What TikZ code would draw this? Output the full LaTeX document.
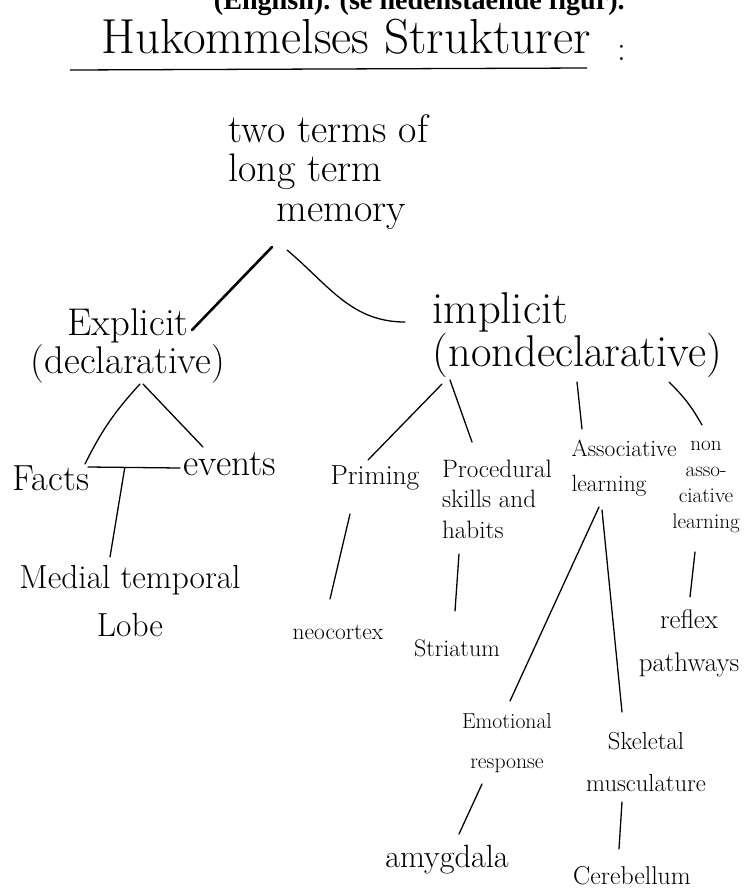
\documentclass[tikz,border=0pt]{standalone}
\usepackage{fontspec}
\newfontfamily\printfont{Liberation Serif}
\usepackage{tikz}
\usetikzlibrary{positioning,calc}
\tikzset{
  hand/.style={align=center, inner sep=2pt},
  stroke/.style={line width=1.1pt, line cap=round},
}

\begin{document}
\begin{tikzpicture}[x=0.03cm,y=-0.03cm]
      \useasboundingbox (0,0) rectangle (744,891);
      \begin{scope}
        \clip (0,0) rectangle (744,891);
        \node[anchor=base east,inner sep=0pt,font=\printfont\bfseries\fontsize{24}{26}\selectfont] (top) at (625,9) {(English). (se nedenstående figur).};
      \end{scope}
      \node[hand,inner sep=0pt,anchor=base,font=\fontsize{42}{44}\selectfont] (title) at (346,53) {Hukommelses Strukturer};
      \node[hand,anchor=base,font=\fontsize{30}{30}\selectfont] (colon) at (622,60) {:};
      \draw[stroke] ($(title.base west)+(-31,17)$) -- ($(title.base east)+(-4,15)$);

      \node[hand,align=left,anchor=west,font=\fontsize{34}{34}\selectfont] (mem) at (226,172) {two terms of\\long term\\\hspace*{1.2em}memory};
      \node[hand,font=\fontsize{33}{32}\selectfont] (expl) at (128,346) {Explicit\\(declarative)};
      \node[hand,align=left,anchor=west,font=\fontsize{38}{34}\selectfont] (impl) at (430,335) {implicit\\(nondeclarative)};

      \node[hand,font=\fontsize{31}{33}\selectfont] (facts) at (51,478) {Facts};
      \node[hand,font=\fontsize{32}{34}\selectfont] (events) at (230,464) {events};
      \node[hand,font=\fontsize{28.5}{41}\selectfont] (mtl) at (130,601) {Medial temporal\\Lobe};

      \node[hand,font=\fontsize{23.5}{26}\selectfont] (prim) at (375,478) {Priming};
      \node[hand,font=\fontsize{20}{22}\selectfont] (neo) at (338,632) {neocortex};
      \node[hand,align=left,font=\fontsize{21.5}{26}\selectfont] (proc) at (497,499) {Procedural\\skills and\\habits};
      \node[hand,font=\fontsize{20.5}{22}\selectfont] (stri) at (457,648) {Striatum};
      \node[hand,align=left,font=\fontsize{20}{30}\selectfont] (assoc) at (624,468) {Associative\\learning};
      \node[hand,font=\fontsize{18}{22}\selectfont] (nonassoc) at (706,487) {non\\asso-\\ciative\\learning};
      \node[hand,font=\fontsize{23}{37}\selectfont] (refl) at (689,643) {reflex\\pathways};

      \node[hand,font=\fontsize{18.5}{34}\selectfont] (emo) at (507,743) {Emotional\\response};
      \node[hand,font=\fontsize{21}{36}\selectfont] (skel) at (646,762) {Skeletal\\musculature};
      \node[hand,font=\fontsize{27.5}{30}\selectfont] (amyg) at (447,860) {amygdala};
      \node[hand,font=\fontsize{22}{24}\selectfont] (cereb) at (632,876) {Cerebellum};

      % long term memory
      \draw[stroke,line width=2.2pt] ($(mem.west)+(46,75)$) -- ($(expl)+(64,-16)$);
      \draw[stroke] ($(mem.west)+(61,78)$) to[out=-40,in=180] ($(impl.west)+(-25,-13)$);

      % explicit
      \draw[stroke] ($(expl)+(12,38)$) to[bend right=8] ($(facts)+(34,-14)$);
      \draw[stroke] ($(expl)+(15,38)$) -- ($(events)+(-27,-17)$);
      \draw[stroke] ($(facts)+(37,-11)$) -- ($(events)+(-50,4)$) coordinate[pos=0.4] (fe);
      \draw[stroke] (fe) -- ($(mtl)+(-20,-44)$);

      % implicit
      \draw[stroke] ($(impl.west)+(12,49)$) -- ($(prim)+(-7,-18)$);
      \draw[stroke] ($(prim)+(-25,36)$) -- ($(neo)+(-8,-33)$);
      \draw[stroke] ($(impl.west)+(20,45)$) -- ($(proc)+(-25,-57)$);
      \draw[stroke] ($(proc)+(-38,55)$) -- ($(stri)+(-2,-37)$);
      \draw[stroke] ($(impl.west)+(147,47)$) -- ($(assoc)+(-42,-39)$);
      \draw[stroke] ($(impl.west)+(239,47)$) to[bend left=8] ($(nonassoc)+(-4,-62)$);
      \draw[stroke] ($(nonassoc)+(-11,65)$) -- ($(refl)+(1,-46)$);

      % associative learning
      \draw[stroke] ($(assoc)+(-25,39)$) -- ($(emo)+(3,-42)$);
      \draw[stroke] ($(assoc)+(-22,42)$) -- ($(skel)+(-24,-50)$);
      \draw[stroke] ($(emo)+(-25,41)$) -- ($(amyg)+(12,-26)$);
      \draw[stroke] ($(skel)+(-24,40)$) -- ($(cereb)+(-13,-27)$);
\end{tikzpicture}
\end{document}
